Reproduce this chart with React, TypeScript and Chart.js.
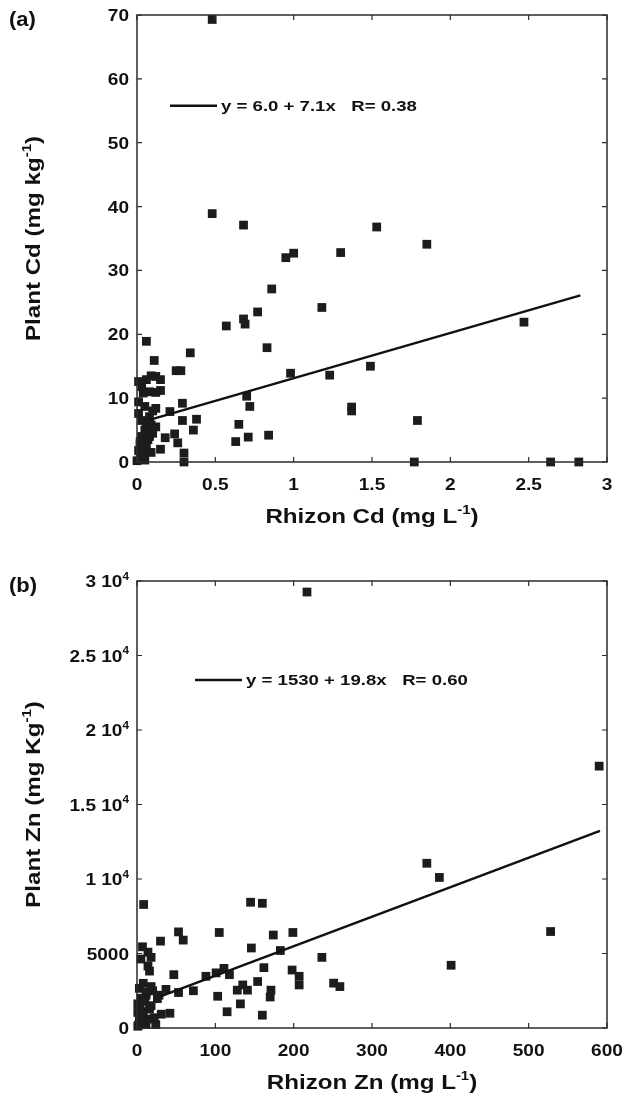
import React, { useEffect, useRef } from 'react';
import { Chart, registerables } from 'chart.js';

Chart.register(...registerables);

// ---------- Panel (a): Cd ----------
const cdRhizon = [
  0.48, 0.48, 0.68, 1.53, 0.95, 1.0, 1.3, 0.86, 1.18, 0.77, 0.68, 0.69, 0.57, 0.83, 0.06, 0.34, 0.11, 1.49, 0.98, 1.23,
  0.25, 0.28, 0.7, 0.72, 1.37, 1.37, 0.29, 0.21, 0.38, 0.29, 0.65, 0.36, 0.18, 0.24, 0.71, 0.84, 0.63, 0.15, 0.26, 0.3,
  0.3, 1.85, 2.47, 1.79, 1.77, 2.64, 2.82,
  0.01, 0.03, 0.06, 0.09, 0.12, 0.15, 0.08, 0.12, 0.15, 0.04,
  0.01, 0.05, 0.12, 0.01, 0.08, 0.09, 0.05, 0.1, 0.03, 0.07, 0.02, 0.06, 0.01, 0.04, 0.02, 0.05, 0.0, 0.09, 0.08, 0.12,
  0.1, 0.03, 0.06, 0.02,
];
const cdPlant = [
  69.3, 38.9, 37.1, 36.8, 32.0, 32.7, 32.8, 27.1, 24.2, 23.5, 22.4, 21.6, 21.3, 17.9, 18.9, 17.1, 15.9, 15.0, 13.9, 13.6,
  14.3, 14.3, 10.3, 8.7, 8.6, 8.0, 9.2, 7.9, 6.7, 6.5, 5.9, 5.0, 3.8, 4.4, 3.9, 4.2, 3.2, 2.0, 3.0, 1.4,
  0, 34.1, 21.9, 6.5, 0, 0, 0,
  12.6, 11.8, 12.9, 13.5, 13.4, 12.9, 11.0, 10.9, 11.2, 10.8,
  9.4, 8.7, 8.4, 7.6, 7.1, 5.8, 5.0, 4.5, 4.0, 3.5, 2.7, 2.5, 1.8, 1.2, 0.6, 0.3, 0.2, 1.5, 4.0, 5.5,
  8.0, 6.5, 6.0, 3.2,
];
const cdFitX = [0.08, 2.83];
const cdFitY = [6.6, 26.1];
const cdXTicks = [0, 0.5, 1, 1.5, 2, 2.5, 3];
const cdXLabels = ['0', '0.5', '1', '1.5', '2', '2.5', '3'];
const cdYTicks = [0, 10, 20, 30, 40, 50, 60, 70];
const cdYLabels = ['0', '10', '20', '30', '40', '50', '60', '70'];

// ---------- Panel (b): Zn ----------
const znRhizon = [
  217, 590, 370, 386, 528, 401,
  8.5, 145, 160, 53, 59, 30, 105, 174, 199, 146, 183, 236, 162, 198, 207, 207, 111, 101, 88, 118, 47, 154, 135, 128,
  141, 171, 170, 103, 72, 53, 37, 132, 115, 160, 42, 251, 259,
  7, 14, 18, 5, 14, 16, 3, 18, 11.5, 26, 1, 16, 1, 22, 31, 3, 11.5, 1, 24,
  5, 10, 20, 8, 12, 4, 18, 6, 2, 15, 8, 28,
];
const znPlant = [
  29260, 17575, 11055, 10105, 6475, 4210,
  8290, 8440, 8370, 6450, 5900, 5830, 6410, 6240, 6410, 5370, 5200, 4740, 4050, 3890, 3470, 2890, 4000, 3700, 3470, 3580, 3580, 3120, 2890, 2540,
  2540, 2540, 2080, 2130, 2500, 2380, 2590, 1620, 1090, 860, 990, 3010, 2780,
  5450, 5090, 4740, 4630, 4160, 3820, 2660, 2780, 2200, 1970, 1620, 1270, 1040, 690, 925, 460, 230, 120, 230,
  2000, 1800, 2500, 3000, 2400, 1300, 1500, 700, 200, 600, 1100, 2200,
];
const znFitX = [30, 591];
const znFitY = [2124, 13232];
const znXTicks = [0, 100, 200, 300, 400, 500, 600];
const znXLabels = ['0', '100', '200', '300', '400', '500', '600'];
const znYTicks = [0, 5000, 10000, 15000, 20000, 25000, 30000];
const znYLabels = ['0', '5000', '1 10^{4}', '1.5 10^{4}', '2 10^{4}', '2.5 10^{4}', '3 10^{4}'];

const FONT = '"Liberation Sans", Arial, Helvetica, sans-serif';

function parseRich(text: string) {
  const parts: { t: string; sup: boolean }[] = [];
  const re = /\^\{([^}]*)\}/g;
  let last = 0;
  let m: RegExpExecArray | null;
  while ((m = re.exec(text))) {
    if (m.index > last) parts.push({ t: text.slice(last, m.index), sup: false });
    parts.push({ t: m[1], sup: true });
    last = m.index + m[0].length;
  }
  if (last < text.length) parts.push({ t: text.slice(last), sup: false });
  return parts;
}

function drawRich(
  ctx: CanvasRenderingContext2D,
  text: string,
  x: number,
  y: number,
  size: number,
  align: 'left' | 'right' | 'center',
  sx: number
) {
  const parts = parseRich(text);
  const supSize = size * 0.62;
  let total = 0;
  const widths: number[] = [];
  for (const p of parts) {
    ctx.font = `bold ${p.sup ? supSize : size}px ${FONT}`;
    const w = ctx.measureText(p.t).width;
    widths.push(w);
    total += w;
  }
  const start = align === 'left' ? x : align === 'right' ? x - total * sx : x - (total * sx) / 2;
  ctx.save();
  ctx.translate(start, y);
  ctx.scale(sx, 1);
  ctx.textAlign = 'left';
  ctx.textBaseline = 'alphabetic';
  let cx = 0;
  parts.forEach((p, i) => {
    ctx.font = `bold ${p.sup ? supSize : size}px ${FONT}`;
    ctx.fillText(p.t, cx, p.sup ? -size * 0.42 : 0);
    cx += widths[i];
  });
  ctx.restore();
}

const decor = {
  id: 'decor',
  afterDraw(chart: any, _args: any, opts: any) {
    const { ctx, chartArea: a, scales } = chart;
    const xs = scales.x;
    const ys = scales.y;
    ctx.save();
    ctx.strokeStyle = '#2b2b2b';
    ctx.lineWidth = 1.5;
    ctx.strokeRect(a.left, a.top, a.right - a.left, a.bottom - a.top);
    ctx.lineWidth = 1.2;
    const TL = 5;
    ctx.beginPath();
    for (const v of opts.xTicks) {
      const px = xs.getPixelForValue(v);
      ctx.moveTo(px, a.bottom);
      ctx.lineTo(px, a.bottom - TL);
      ctx.moveTo(px, a.top);
      ctx.lineTo(px, a.top + TL);
    }
    for (const v of opts.yTicks) {
      const py = ys.getPixelForValue(v);
      ctx.moveTo(a.left, py);
      ctx.lineTo(a.left + TL, py);
      ctx.moveTo(a.right, py);
      ctx.lineTo(a.right - TL, py);
    }
    ctx.stroke();

    ctx.fillStyle = '#111';
    opts.xTicks.forEach((v: number, i: number) => {
      drawRich(ctx, opts.xLabels[i], xs.getPixelForValue(v), a.bottom + 28, 17, 'center', 1.12);
    });
    opts.yTicks.forEach((v: number, i: number) => {
      drawRich(ctx, opts.yLabels[i], a.left - 8, ys.getPixelForValue(v) + 6, 17, 'right', 1.12);
    });

    drawRich(ctx, opts.xTitle, (a.left + a.right) / 2, a.bottom + 61, 21, 'center', 1.15);
    ctx.save();
    ctx.translate(40, (a.top + a.bottom) / 2);
    ctx.rotate(-Math.PI / 2);
    drawRich(ctx, opts.yTitle, 0, 0, 21, 'center', 1.15);
    ctx.restore();

    drawRich(ctx, opts.tag, 9, 26, 20, 'left', 1.1);

    // legend
    const ly = ys.getPixelForValue(opts.legendY);
    ctx.strokeStyle = '#111';
    ctx.lineWidth = 2.5;
    ctx.beginPath();
    ctx.moveTo(opts.legendLine[0], ly);
    ctx.lineTo(opts.legendLine[1], ly);
    ctx.stroke();
    drawRich(ctx, opts.legendText, opts.legendLine[1] + 4, ly + 5.5, 15.5, 'left', 1.2);
    ctx.restore();
  },
};

type PanelProps = {
  height: number;
  xs: number[];
  ys: number[];
  fitX: number[];
  fitY: number[];
  xMax: number;
  yMax: number;
  decorOpts: any;
};

function Panel({ height, xs, ys, fitX, fitY, xMax, yMax, decorOpts }: PanelProps) {
  const ref = useRef<HTMLCanvasElement | null>(null);
  useEffect(() => {
    if (!ref.current) return;
    const chart = new Chart(ref.current, {
      type: 'scatter',
      data: {
        datasets: [
          {
            type: 'line',
            data: fitX.map((x, i) => ({ x, y: fitY[i] })),
            borderColor: '#111',
            borderWidth: 2.5,
            pointRadius: 0,
            fill: false,
            clip: false as any,
            order: 0,
          } as any,
          {
            type: 'scatter',
            data: xs.map((x, i) => ({ x, y: ys[i] })),
            pointStyle: 'rect',
            pointRadius: 6.2,
            pointBackgroundColor: '#1c1c1c',
            pointBorderWidth: 0,
            borderWidth: 0,
            showLine: false,
            clip: false as any,
            order: 1,
          } as any,
        ],
      },
      options: {
        responsive: false,
        animation: false,
        events: [],
        layout: { padding: { top: 15, right: 19, left: 0, bottom: 0 } },
        plugins: {
          legend: { display: false },
          tooltip: { enabled: false },
          decor: decorOpts,
        } as any,
        scales: {
          x: {
            type: 'linear',
            min: 0,
            max: xMax,
            grid: { display: false },
            border: { display: false },
            ticks: { display: false },
            afterFit: (s: any) => {
              s.height = height - 462;
            },
          },
          y: {
            type: 'linear',
            min: 0,
            max: yMax,
            grid: { display: false },
            border: { display: false },
            ticks: { display: false },
            afterFit: (s: any) => {
              s.width = 137;
            },
          },
        },
      },
      plugins: [decor],
    });
    return () => chart.destroy();
  }, []);
  return <canvas ref={ref} width={626} height={height} style={{ display: 'block' }} />;
}

export default function App() {
  return (
    <div style={{ position: 'absolute', left: 0, top: 0, width: 626, height: 1095, background: '#fff' }}>
      <Panel
        height={566}
        xs={cdRhizon}
        ys={cdPlant}
        fitX={cdFitX}
        fitY={cdFitY}
        xMax={3}
        yMax={70}
        decorOpts={{
          xTicks: cdXTicks,
          xLabels: cdXLabels,
          yTicks: cdYTicks,
          yLabels: cdYLabels,
          xTitle: 'Rhizon Cd (mg L^{-1})',
          yTitle: 'Plant Cd (mg kg^{-1})',
          tag: '(a)',
          legendY: 55.8,
          legendLine: [170, 217],
          legendText: 'y = 6.0 + 7.1x   R= 0.38',
        }}
      />
      <Panel
        height={529}
        xs={znRhizon}
        ys={znPlant}
        fitX={znFitX}
        fitY={znFitY}
        xMax={600}
        yMax={30000}
        decorOpts={{
          xTicks: znXTicks,
          xLabels: znXLabels,
          yTicks: znYTicks,
          yLabels: znYLabels,
          xTitle: 'Rhizon Zn (mg L^{-1})',
          yTitle: 'Plant Zn (mg Kg^{-1})',
          tag: '(b)',
          legendY: 23360,
          legendLine: [195, 242],
          legendText: 'y = 1530 + 19.8x   R= 0.60',
        }}
      />
    </div>
  );
}
